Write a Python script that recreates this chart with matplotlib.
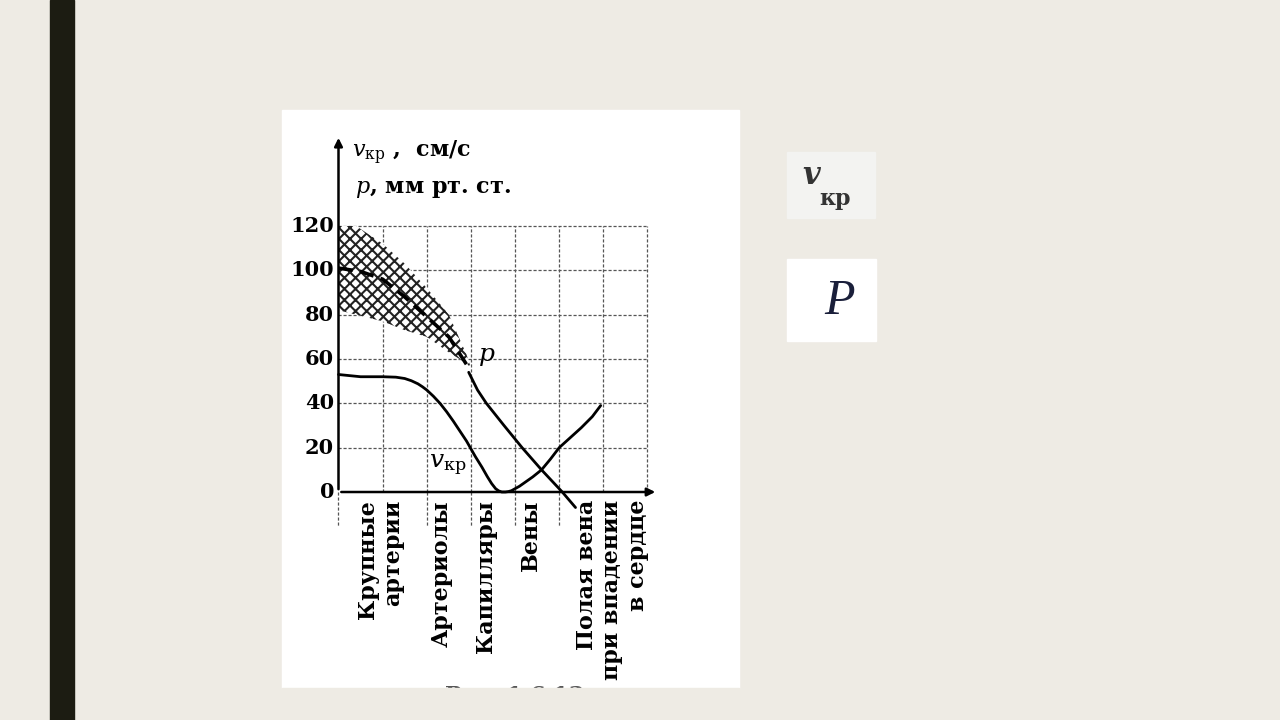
import matplotlib.pyplot as plt
from matplotlib.patches import Rectangle

# подписи сосудов под осью x
categories = ["Крупные\nартерии", "Артериолы", "Капилляры", "Вены",
              "Полая вена\nпри впадении\nв сердце"]
category_pos = [0.95, 2.35, 3.34, 4.37, 6.2]

y_ticks = [0, 20, 40, 60, 80, 100, 120]

# давление p, мм рт. ст.: пунктир в артериях, дальше сплошная
p_dash_x = [0, 0.5, 1.0, 1.5, 2.0, 2.5, 2.95]
p_dash_y = [101, 99.5, 96, 88, 79, 70, 56]
p_solid_x = [2.95, 3.15, 3.35, 3.75, 4.16, 4.6, 5.07, 5.37]
p_solid_y = [54, 46, 40, 30, 20, 10, 0, -7]

# разброс давления (заштрихованная полоса)
band_x = [0, 0.4, 1.0, 1.5, 2.0, 2.5, 2.9, 3.0]
band_upper = [120, 120, 112, 103, 92, 80, 62, 56]
band_lower = [82, 80, 77, 73, 70, 63, 58, 56]

# скорость крови v_кр, см/с
v_x = [0, 0.5, 1.0, 1.3, 1.5, 1.65, 1.8, 1.9, 2.0, 2.15, 2.3, 2.45, 2.6,
       2.75, 2.9, 3.0, 3.1, 3.25, 3.37, 3.47, 3.56, 3.63, 3.7, 3.78, 3.85,
       3.92, 4.0, 4.1, 4.2, 4.4, 4.6, 4.8, 5.0, 5.25, 5.5, 5.75, 5.94]
v_y = [53, 52, 52, 51.8, 51.2, 50.2, 48.8, 47.5, 46, 43.2, 40, 36.2, 32,
       27.5, 23, 19.5, 16, 11.2, 7, 3.8, 1.5, 0.5, 0, 0, 0.2,
       0.6, 1.5, 2.6, 4, 6.8, 10, 14.8, 20, 24.5, 29, 34, 39]

grid_x = [1, 2, 3, 4, 5, 6, 7]
grid_y = [20, 40, 60, 80, 100, 120]
grid_x_below = [0, 2, 3, 4, 5]

BG = "#EEEBE4"
FS = 16


def draw_slide(fig):
    """Фон слайда: тёмная полоса, белая подложка рисунка, две вставки справа."""
    bg = fig.add_axes([0, 0, 1, 1], zorder=0)
    bg.set_xlim(0, 1280)
    bg.set_ylim(720, 0)
    bg.axis("off")
    bg.add_patch(Rectangle((50, 0), 24, 720, color="#1c1c12"))
    bg.add_patch(Rectangle((282, 110), 457, 578, color="white", zorder=1))
    # подпись рисунка обрезана краем картинки
    bg.text(515, 685, "Рис. 1.6.13", ha="center", va="top", fontsize=FS,
            fontweight="bold", color="#555555", zorder=2)
    bg.add_patch(Rectangle((282, 688), 457, 32, color=BG, zorder=3))

    bg.add_patch(Rectangle((787, 152), 88, 66, color="#f3f3f1"))
    bg.text(811, 175, "v", fontsize=22, fontstyle="italic", fontweight="bold",
            color="#333333", ha="center", va="center")
    bg.text(835, 199, "кр", fontsize=16, fontweight="bold",
            color="#333333", ha="center", va="center")

    bg.add_patch(Rectangle((787, 259), 89, 82, color="white"))
    bg.text(840, 302, "P", fontsize=36, fontstyle="italic",
            family="Liberation Serif", color="#1a1f3a", ha="center", va="center")


def draw_chart(fig):
    """Графики давления и скорости крови по ходу сосудистого русла."""
    # ось: x 0..7 -> 338.5..647.5 px, y 0..120 -> 492..226 px
    ax = fig.add_axes([320 / 1280, 180 / 720, 360 / 1280, 410 / 720], zorder=1)
    ax.set_xlim(-0.419, 7.737)
    ax.set_ylim(-21.65, 163.3)
    ax.axis("off")

    grid_style = dict(color="#555555", lw=0.9, linestyle=(0, (2.5, 1.5)), zorder=1)
    for gy in grid_y:
        ax.plot([0, 7], [gy, gy], **grid_style)
    for gx in grid_x:
        ax.plot([gx, gx], [0, 120], **grid_style)
    for gx in grid_x_below:
        ax.plot([gx, gx], [0, -16], **grid_style)

    ax.fill_between(band_x, band_lower, band_upper, facecolor="white",
                    edgecolor="#222222", hatch="xxx", linewidth=0, zorder=2)

    ax.plot(p_dash_x, p_dash_y, color="black", lw=2.6,
            linestyle=(0, (4, 2)), zorder=3)
    ax.plot(p_solid_x, p_solid_y, color="black", lw=2.0, zorder=3,
            solid_capstyle="round")
    ax.plot(v_x, v_y, color="black", lw=2.0, zorder=3, solid_capstyle="round",
            solid_joinstyle="round")

    arrow = dict(arrowstyle="-|>", lw=1.8, color="black", mutation_scale=12)
    ax.annotate("", xy=(0, 161), xytext=(0, 0), arrowprops=arrow)
    ax.annotate("", xy=(7.24, 0), xytext=(0, 0), arrowprops=arrow)

    bold = dict(fontweight="bold")
    for t in y_ticks:
        ax.text(-0.1, t, str(t), ha="right", va="center", fontsize=FS - 1, **bold)

    ax.text(0.3, 151, r"$v_{\mathrm{кр}}$ ,  см/с", ha="left", va="baseline",
            fontsize=FS, **bold)
    ax.text(0.38, 135, r"$p$, мм рт. ст.", ha="left", va="baseline",
            fontsize=FS, **bold)
    ax.text(3.15, 61, r"$p$", ha="left", va="center", fontsize=FS + 2)
    ax.text(2.05, 12, r"$v_{\mathrm{кр}}$", ha="left", va="center", fontsize=FS + 2)

    for name, pos in zip(categories, category_pos):
        ax.text(pos, -3.6, name, rotation=90, ha="center", va="top",
                multialignment="right", fontsize=FS, linespacing=1.2, **bold)


def main():
    plt.rcParams["font.family"] = ["DejaVu Serif"]
    plt.rcParams["mathtext.fontset"] = "dejavuserif"
    plt.rcParams["hatch.linewidth"] = 1.5
    fig = plt.figure(figsize=(12.8, 7.2), dpi=100, facecolor=BG)
    draw_slide(fig)
    draw_chart(fig)
    fig.savefig("out.png", dpi=100, facecolor=BG)
    plt.close(fig)


if __name__ == "__main__":
    main()
